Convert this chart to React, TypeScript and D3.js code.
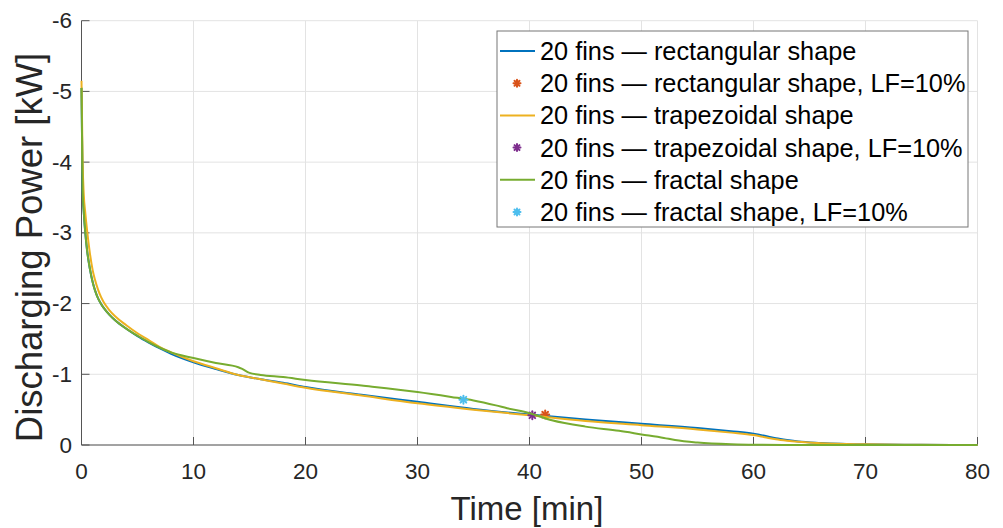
import React from "react";
import * as d3 from "d3";

const rectTime = [0, 0.1, 0.2, 0.34, 0.5, 0.75, 1, 1.2, 1.47, 1.75, 2, 2.5, 3, 4, 5, 6, 7, 8, 10, 12, 14, 16, 18, 20, 25, 30, 35, 40, 45, 50, 55, 58, 60, 61, 62, 63, 64, 66, 70, 75, 80];
const rectPower = [-5.05, -3.6, -3.3, -3.0, -2.75, -2.49, -2.3, -2.19, -2.078, -1.994, -1.935, -1.841, -1.765, -1.644, -1.539, -1.448, -1.365, -1.29, -1.17, -1.075, -0.99, -0.93, -0.88, -0.82, -0.71, -0.61, -0.51, -0.43, -0.36, -0.3, -0.24, -0.195, -0.16, -0.13, -0.095, -0.07, -0.05, -0.03, -0.01, -0.003, -0.001];

const trapTime = [0, 0.1, 0.2, 0.34, 0.5, 0.75, 1, 1.2, 1.47, 1.75, 2, 2.5, 3, 4, 5, 6, 7, 8, 10, 12, 14, 16, 18, 20, 25, 30, 35, 40, 45, 50, 55, 58, 60, 61, 62, 63, 64, 66, 70, 75, 80];
const trapPower = [-5.15, -4.0, -3.55, -3.28, -3.03, -2.71, -2.47, -2.34, -2.2, -2.09, -2.015, -1.905, -1.82, -1.693, -1.58, -1.485, -1.385, -1.31, -1.185, -1.085, -0.99, -0.93, -0.87, -0.81, -0.7, -0.59, -0.5, -0.42, -0.34, -0.28, -0.22, -0.175, -0.14, -0.11, -0.08, -0.06, -0.045, -0.025, -0.01, -0.003, -0.001];

const fracTime = [0, 0.1, 0.2, 0.34, 0.5, 0.75, 1, 1.2, 1.47, 1.75, 2, 2.5, 3, 4, 5, 6, 7, 8, 10, 12, 14, 14.3, 15, 16, 18, 20, 25, 30, 33, 35, 37, 38, 40, 42, 45, 48, 50, 52, 53, 55, 58, 60, 65, 80];
const fracPower = [-5.05, -3.6, -3.3, -3.0, -2.75, -2.49, -2.3, -2.19, -2.078, -1.994, -1.935, -1.841, -1.765, -1.645, -1.545, -1.455, -1.375, -1.31, -1.23, -1.16, -1.1, -1.08, -1.02, -0.99, -0.96, -0.92, -0.84, -0.75, -0.68, -0.63, -0.56, -0.52, -0.45, -0.35, -0.26, -0.2, -0.15, -0.1, -0.07, -0.035, -0.01, -0.003, -0.001, 0];

const lfTime = [41.4, 40.25, 34.1];
const lfPower = [-0.43, -0.42, -0.64];

const xTicks = [0, 10, 20, 30, 40, 50, 60, 70, 80];
const yTicks = [0, -1, -2, -3, -4, -5, -6];

const legendLabels = [
  "20 fins \u2014 rectangular shape",
  "20 fins \u2014 rectangular shape, LF=10%",
  "20 fins \u2014 trapezoidal shape",
  "20 fins \u2014 trapezoidal shape, LF=10%",
  "20 fins \u2014 fractal shape",
  "20 fins \u2014 fractal shape, LF=10%",
];

const BLUE = "#0072BD";
const ORANGE = "#D95319";
const YELLOW = "#EDB120";
const PURPLE = "#7E2F8E";
const GREEN = "#77AC30";
const CYAN = "#4DBEEE";
const TEXT = "#262626";
const FONT = "'Liberation Sans', Arial, Helvetica, sans-serif";

function Star({ x, y, color, r = 4 }: { x: number; y: number; color: string; r?: number }) {
  const d = r * Math.SQRT1_2;
  return (
    <g stroke={color} strokeWidth={2} strokeLinecap="round">
      <line x1={x - r} y1={y} x2={x + r} y2={y} />
      <line x1={x} y1={y - r} x2={x} y2={y + r} />
      <line x1={x - d} y1={y - d} x2={x + d} y2={y + d} />
      <line x1={x - d} y1={y + d} x2={x + d} y2={y - d} />
    </g>
  );
}

export default function App() {
  const W = 1003, H = 528;
  const left = 81.5, right = 977.5, top = 20.7, bottom = 445;
  const x = d3.scaleLinear().domain([0, 80]).range([left, right]);
  const y = d3.scaleLinear().domain([0, -6]).range([bottom, top]);

  const mk = (t: number[], p: number[]) =>
    d3.line<number>().x((_, i) => x(t[i])).y((v) => y(v)).curve(d3.curveMonotoneX)(p) || "";

  const series = [
    { d: mk(rectTime, rectPower), c: BLUE },
    { d: mk(trapTime, trapPower), c: YELLOW },
    { d: mk(fracTime, fracPower), c: GREEN },
  ];
  const markerColors = [ORANGE, PURPLE, CYAN];
  const legendKinds = [
    { kind: "line", c: BLUE },
    { kind: "mark", c: ORANGE },
    { kind: "line", c: YELLOW },
    { kind: "mark", c: PURPLE },
    { kind: "line", c: GREEN },
    { kind: "mark", c: CYAN },
  ];

  const lgX = 497, lgY = 31, lgW = 471, lgH = 196, rowH = 32.2;

  return (
    <svg width={W} height={H} style={{ position: "absolute", left: 0, top: 0, background: "#fff" }} fontFamily={FONT}>
      <rect x={0} y={0} width={W} height={H} fill="#fff" />
      <g stroke="#e3e3e3" strokeWidth={1}>
        {xTicks.map((t) => (
          <line key={"gx" + t} x1={x(t)} x2={x(t)} y1={top} y2={bottom} />
        ))}
        {yTicks.map((t) => (
          <line key={"gy" + t} x1={left} x2={right} y1={y(t)} y2={y(t)} />
        ))}
      </g>
      <g stroke="#555" strokeWidth={1}>
        <line x1={left} x2={right} y1={bottom} y2={bottom} />
        <line x1={left} x2={left} y1={top} y2={bottom} />
        {xTicks.map((t) => (
          <line key={"tx" + t} x1={x(t)} x2={x(t)} y1={bottom} y2={bottom - 8} />
        ))}
        {yTicks.map((t) => (
          <line key={"ty" + t} x1={left} x2={left + 8} y1={y(t)} y2={y(t)} />
        ))}
      </g>
      <g fill={TEXT} fontSize={22.5}>
        {xTicks.map((t) => (
          <text key={"lx" + t} x={x(t)} y={479} textAnchor="middle">{t}</text>
        ))}
        {yTicks.map((t) => (
          <text key={"ly" + t} x={72} y={y(t)} textAnchor="end" dominantBaseline="central">{t}</text>
        ))}
      </g>
      <text x={527} y={520} fill={TEXT} fontSize={33} textAnchor="middle">Time [min]</text>
      <text transform={`translate(42,247.5) rotate(-90)`} fill={TEXT} fontSize={36.5} textAnchor="middle">Discharging Power [kW]</text>
      <g fill="none" strokeWidth={2} strokeLinejoin="round">
        {series.map((s, i) => (
          <g key={"s" + i}>
            <path d={s.d} stroke={s.c} />
            <Star x={x(lfTime[i])} y={y(lfPower[i])} color={markerColors[i]} />
          </g>
        ))}
      </g>
      <rect x={lgX} y={lgY} width={lgW} height={lgH} fill="#fff" stroke="#777" strokeWidth={1} />
      {legendLabels.map((lab, i) => {
        const cy = lgY + 20 + i * rowH;
        const k = legendKinds[i];
        return (
          <g key={"lg" + i}>
            {k.kind === "line" ? (
              <line x1={500} x2={535} y1={cy} y2={cy} stroke={k.c} strokeWidth={2} />
            ) : (
              <Star x={517} y={cy} color={k.c} r={3.5} />
            )}
            <text x={540} y={cy} dominantBaseline="central" fontSize={25.3} fill="#000">{lab}</text>
          </g>
        );
      })}
    </svg>
  );
}
